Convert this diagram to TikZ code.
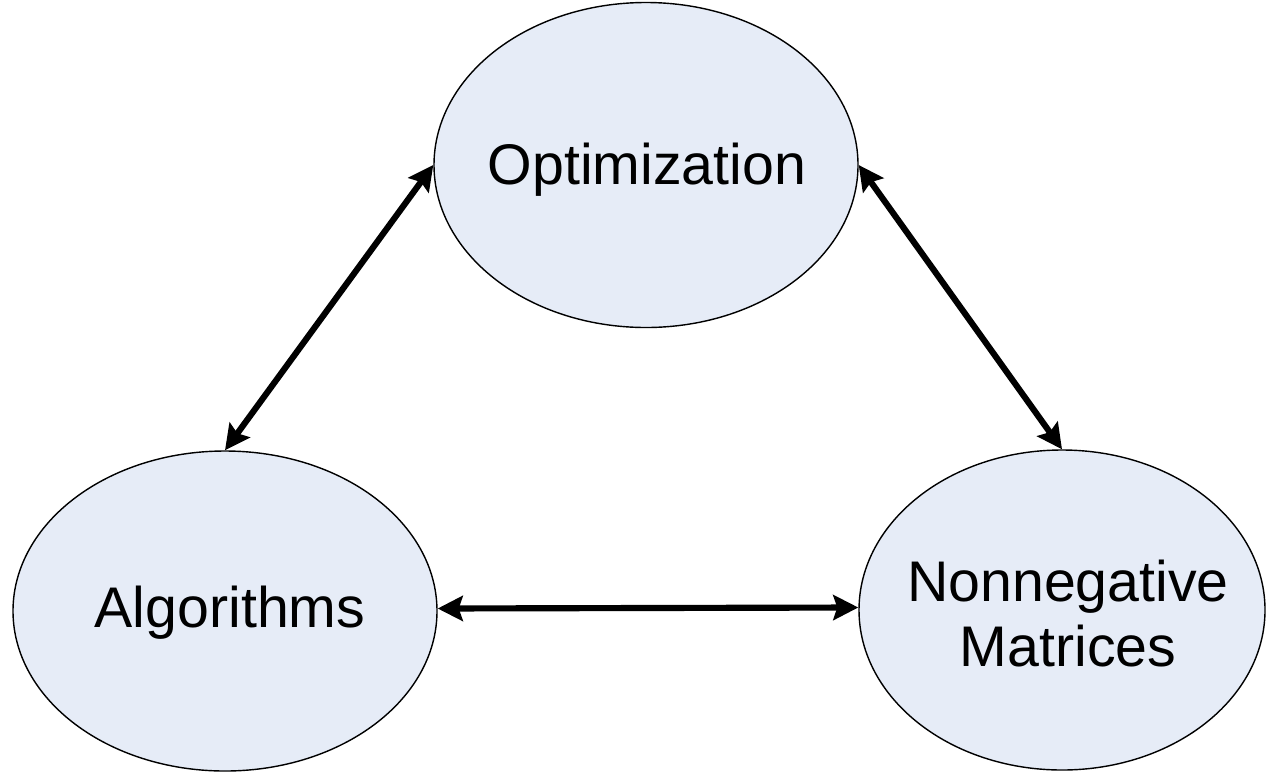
\documentclass[tikz,border=0pt]{standalone}
\usepackage{fontspec}
\setmainfont{Liberation Sans}
\usetikzlibrary{shapes.geometric,arrows.meta}
\definecolor{ellfill}{RGB}{230,236,247}
\tikzset{
  ell/.style={ellipse, draw=black, line width=0.8pt, fill=ellfill, inner sep=0pt},
  lbl/.style={font=\fontsize{32.6}{37.5}\selectfont, align=center, inner sep=0pt},
  biarrow/.style={line width=3.5pt, {Stealth[length=0.5cm,width=0.5cm,inset=0.08cm]}-{Stealth[length=0.5cm,width=0.5cm,inset=0.08cm]}}
}
\begin{document}
\begin{tikzpicture}
\useasboundingbox (0,0) rectangle (25.32,-15.44);
\node[ell, minimum width=8.48cm, minimum height=6.5cm] (top) at (12.92,-3.30) {};
\node[ell, minimum width=8.48cm, minimum height=6.4cm] (left) at (4.5,-12.22) {};
\node[ell, minimum width=8.12cm, minimum height=6.4cm] (right) at (21.24,-12.2) {};
\node[lbl] (topt) at (12.94,-3.40) {Optimization};
\node[lbl] (leftt) at (4.6,-12.26) {Algorithms};
\node[lbl] (rightt) at (21.36,-12.27) {Nonnegative\\Matrices};
\draw[biarrow] (top.west) -- (left.north);
\draw[biarrow] (top.east) -- (right.north);
\draw[biarrow] ([yshift=0.05cm]left.east) -- ([yshift=0.05cm]right.west);
\end{tikzpicture}
\end{document}
